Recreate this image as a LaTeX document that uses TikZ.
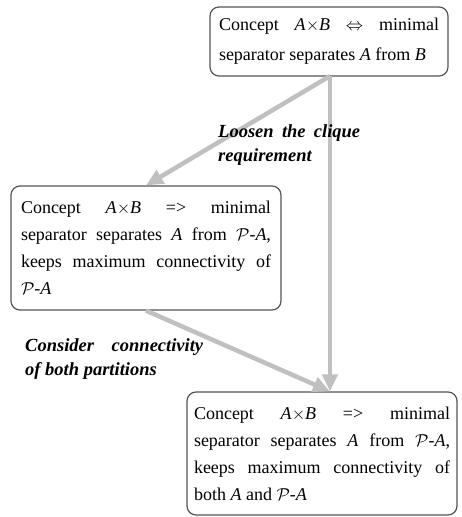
\documentclass[tikz,border=0pt]{standalone}
\usepackage{fontspec}
\setmainfont{Liberation Serif}
\usetikzlibrary{arrows.meta}

\definecolor{flowgray}{RGB}{192,192,192}
\definecolor{frame}{RGB}{85,85,85}

% one justified line of a box text
\newcommand{\jline}[2]{\makebox[#1][s]{#2}}
\newcommand{\PA}{$\mathcal{P}$-\textit{A}}

\tikzset{
  x=1pt, y=1pt,
  conceptbox/.style={draw=frame, line width=1.2pt, rounded corners=9pt,
    inner sep=0pt, align=justify, font=\fontsize{18}{27}\selectfont},
  flow/.style={draw=flowgray, line width=4.5pt,
    -{Triangle[length=17pt,width=15pt]}},
  steplabel/.style={inner sep=0pt, align=left, anchor=north west,
    font=\fontsize{18.5}{24}\selectfont\bfseries\itshape},
}

\begin{document}
\begin{tikzpicture}
\useasboundingbox (0,0) rectangle (462,-517);

% the three concept boxes
\node[conceptbox, minimum width=238pt, minimum height=69pt, text width=220pt,
      font=\fontsize{18}{30}\selectfont] (top) at (329,-41.5)
  {\jline{220pt}{Concept \ \textit{A}$\times$\textit{B} \ $\Leftrightarrow$ \ minimal}\\
   separator separates \textit{A} from \textit{B}};

\node[conceptbox, minimum width=270pt, minimum height=124pt, text width=250pt] (mid) at (146,-248)
  {\jline{250pt}{Concept \textit{A}$\times$\textit{B} => minimal}\\
   \jline{250pt}{separator separates \textit{A} from \PA,}\\
   \jline{250pt}{keeps maximum connectivity of}\\
   \PA};

\node[conceptbox, minimum width=270pt, minimum height=123pt, text width=256pt] (bot) at (322,-453.5)
  {\jline{256pt}{Concept \textit{A}$\times$\textit{B} => minimal}\\
   \jline{256pt}{separator separates \textit{A} from \PA,}\\
   \jline{256pt}{keeps maximum connectivity of}\\
   both \textit{A} and \PA};

% connectors
\coordinate (split) at (330,-76);
\coordinate (merge) at (bot.north -| split);
\draw[flow] (split) -- (mid.north);
\draw[flow] (split) -- (merge);
\draw[flow] (mid.south) -- (merge);

% labels of the two steps
\node[steplabel] (loosen) at (218,-124)
  {\jline{142pt}{Loosen the clique}\\requirement};
\node[steplabel] (consider) at (25,-338)
  {\jline{178pt}{Consider connectivity}\\of both partitions};
\end{tikzpicture}
\end{document}
